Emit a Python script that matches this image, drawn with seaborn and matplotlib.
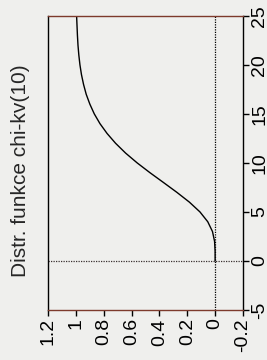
import matplotlib
matplotlib.use("Agg")
import matplotlib.pyplot as plt
import seaborn as sns

# hodnoty (distribucni funkce chi-kvadrat, 10 stupnu volnosti)
chi_x = [0, 1, 2, 3, 4, 5, 6, 7, 8, 9, 10, 11, 12, 13, 14, 15, 16, 17, 18, 19,
         20, 21, 22, 23, 24, 25]
chi_cdf = [0.0, 0.0002, 0.004, 0.019, 0.053, 0.109, 0.185, 0.275, 0.371, 0.468,
           0.560, 0.643, 0.715, 0.776, 0.827, 0.868, 0.900, 0.926, 0.945, 0.960,
           0.971, 0.979, 0.985, 0.989, 0.992, 0.995]

x_ticks = [-5, 0, 5, 10, 15, 20, 25]
f_ticks = [-0.2, 0, 0.2, 0.4, 0.6, 0.8, 1, 1.2]
f_tick_labels = ['-0.2', '0', '0.2', '0.4', '0.6', '0.8', '1', '1.2']
title = 'Distr. funkce chi-kv(10)'

sns.set_style('ticks')
plt.rcParams['font.family'] = ['Liberation Sans', 'DejaVu Sans']
plt.rcParams['axes.unicode_minus'] = False

paper = '#efefed'
brown = '#7d3a2c'

fig = plt.figure(figsize=(2.67, 3.6), dpi=100, facecolor=paper)
ax = fig.add_axes([0.18, 0.139, 0.73, 0.817])
ax.set_facecolor(paper)

# graf je otoceny o 90 stupnu: hodnota funkce vodorovne, x svisle
ax.axhline(0, color='#3a3030', lw=0.9, ls=(0, (1, 1)))
ax.axvline(0, color='black', lw=0.9, ls=(0, (1, 1)))
sns.lineplot(x=chi_cdf, y=chi_x, orient='y', sort=False, color='black', lw=1.0, ax=ax)

ax.set_xlim(1.2, -0.2)
ax.set_ylim(-5, 25)

ax.set_xticks(f_ticks)
ax.set_xticklabels(f_tick_labels, rotation=90, va='top', ha='center', fontsize=14)
ax.yaxis.tick_right()
ax.set_yticks(x_ticks)
ax.set_yticklabels([str(v) for v in x_ticks], rotation=90, va='center', ha='left', fontsize=14)
ax.tick_params(direction='out', length=4, width=1, colors='black', pad=2)

for side in ['left', 'right', 'top', 'bottom']:
    ax.spines[side].set_visible(True)
    ax.spines[side].set_linewidth(1.0)
    ax.spines[side].set_color('black')
ax.spines['top'].set_color(brown)
ax.spines['bottom'].set_color(brown)

ax.set_xlabel('')
ax.set_ylabel('')
fig.text(0.075, 0.525, title, rotation=90, ha='center', va='center', fontsize=15)

fig.savefig('out.png', dpi=100, facecolor=paper)
